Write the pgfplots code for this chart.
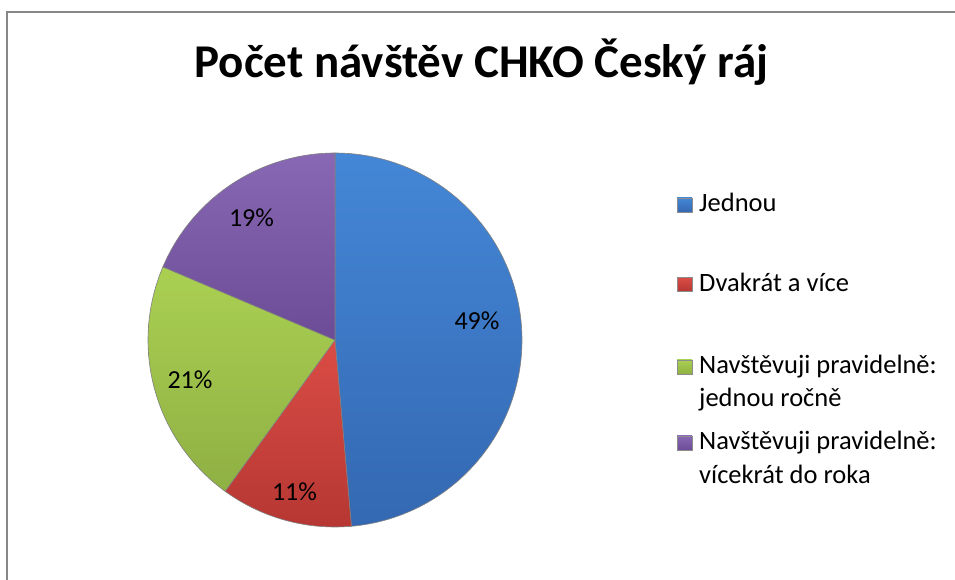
\documentclass[border=0pt]{standalone}
\usepackage{pgfplots}
\pgfplotsset{compat=1.18}
\usepackage{pgfplotstable}
\usepackage{fontspec}
\setmainfont{Carlito}
\definecolor{bluetop}{HTML}{4487D6}
\definecolor{bluebot}{HTML}{3468B2}
\definecolor{redtop}{HTML}{DA4C45}
\definecolor{redbot}{HTML}{B63733}
\definecolor{greentop}{HTML}{AAD052}
\definecolor{greenbot}{HTML}{8FB043}
\definecolor{purpletop}{HTML}{8868B4}
\definecolor{purplebot}{HTML}{6C4C96}
\definecolor{frame}{HTML}{878787}

\pgfplotstableread{
idx value
0 48.6
1 11.4
2 21.4
3 18.6
}\piedata

\begin{document}
\begin{tikzpicture}[x=1pt,y=1pt]
\useasboundingbox (0,0) rectangle (955,580);
\draw[frame, line width=2pt] (7,-5) -- (7,568) -- (960,568);

% cumulative angles (clockwise from 90 deg)
\pgfplotstablegetelem{0}{value}\of\piedata \let\vA\pgfplotsretval
\pgfplotstablegetelem{1}{value}\of\piedata \let\vB\pgfplotsretval
\pgfplotstablegetelem{2}{value}\of\piedata \let\vC\pgfplotsretval
\pgfplotstablegetelem{3}{value}\of\piedata \let\vD\pgfplotsretval
\pgfmathsetmacro\aA{90}
\pgfmathsetmacro\aB{\aA-3.6*\vA}
\pgfmathsetmacro\aC{\aB-3.6*\vB}
\pgfmathsetmacro\aD{\aC-3.6*\vC}
\pgfmathsetmacro\aE{\aD-3.6*\vD}

\begin{axis}[at={(335pt,240pt)}, anchor=center, width=374pt, height=374pt,
  scale only axis, xmin=-1, xmax=1, ymin=-1, ymax=1, hide axis, clip=false]
\addplot[draw=black!50, line width=0.6pt, top color=bluetop, bottom color=bluebot,
  domain=\aB:\aA, samples=120, variable=\t] ({cos(\t)},{sin(\t)}) -- (axis cs:0,0) -- cycle;
\addplot[draw=black!50, line width=0.6pt, top color=redtop, bottom color=redbot,
  domain=\aC:\aB, samples=40, variable=\t] ({cos(\t)},{sin(\t)}) -- (axis cs:0,0) -- cycle;
\addplot[draw=black!50, line width=0.6pt, top color=greentop, bottom color=greenbot,
  domain=\aD:\aC, samples=60, variable=\t] ({cos(\t)},{sin(\t)}) -- (axis cs:0,0) -- cycle;
\addplot[draw=black!50, line width=0.6pt, top color=purpletop, bottom color=purplebot,
  domain=\aE:\aD, samples=60, variable=\t] ({cos(\t)},{sin(\t)}) -- (axis cs:0,0) -- cycle;
\end{axis}

% data labels
\begin{scope}[every node/.style={font=\fontsize{26}{30}\selectfont, inner sep=0pt}]
\node at (477,259) {49\%};
\node at (294.5,88) {11\%};
\node at (190,200) {21\%};
\node at (251.5,362.5) {19\%};
\end{scope}

% title
\node[anchor=base, inner sep=0pt, font=\fontsize{47}{56}\selectfont\bfseries] at (481.5,502) {Počet návštěv CHKO Český ráj};

% legend
\begin{scope}[every node/.style={font=\fontsize{26.5}{32.7}\selectfont, inner sep=0pt, anchor=base west}]
\shade[top color=bluetop, bottom color=bluebot, draw=black!45, line width=0.4pt] (677,368) rectangle (692,382);
\node at (699,368) {Jednou};
\shade[top color=redtop, bottom color=redbot, draw=black!45, line width=0.4pt] (677,288.3) rectangle (692,302.3);
\node at (699,288.3) {Dvakrát a více};
\shade[top color=greentop, bottom color=greenbot, draw=black!45, line width=0.4pt] (677,206) rectangle (692,220);
\node at (699,206) {Navštěvuji pravidelně:};
\node at (699,173.3) {jednou ročně};
\shade[top color=purpletop, bottom color=purplebot, draw=black!45, line width=0.4pt] (677,130) rectangle (692,144);
\node at (699,130) {Navštěvuji pravidelně:};
\node at (699,96) {vícekrát do roka};
\end{scope}
\end{tikzpicture}
\end{document}
